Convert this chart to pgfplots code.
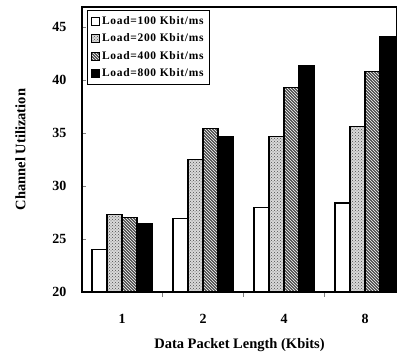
\documentclass[border=0pt]{standalone}
\usepackage{pgfplots}
\pgfplotsset{compat=1.18}
\usetikzlibrary{patterns}
\usepackage{fontspec}
\setmainfont{Liberation Serif}
\newfontfamily\legfont[LetterSpace=6]{Liberation Serif}
\begin{document}
\begin{tikzpicture}
\begin{axis}[
  scale only axis,
  width=315pt, height=285pt,
  xmin=0.506, xmax=4.395,
  ymin=20, ymax=46.9,
  xtick={1,2,3,4}, xticklabels={1,2,4,8},
  minor xtick={1.5,2.5,3.5},
  major x tick style={draw=none},
  minor tick length=5pt,
  ytick={20,25,...,45},
  major tick length=4pt,
  tick align=inside,
  xtick pos=bottom, ytick pos=left,
  /pgf/number format/assume math mode=true,
  tick label style={font=\fontsize{14}{14}\selectfont\bfseries},
  xticklabel style={yshift=-15pt},
  yticklabel style={xshift=-12pt},
  xlabel={Data Packet Length (Kbits)},
  ylabel={Channel Utilization},
  xlabel style={font=\fontsize{14.5}{15}\selectfont\bfseries, yshift=-8pt},
  ylabel style={font=\fontsize{14.5}{15}\selectfont\bfseries, yshift=20pt},
  axis line style={line width=1.4pt},
  ybar, bar width=0.185,
  every axis plot/.append style={line width=1.1pt, draw=black},
  legend style={at={(0.016,0.99)}, anchor=north west, draw=black, line width=0.8pt,
    font=\legfont\fontsize{11.5}{12}\selectfont\bfseries, row sep=4pt, inner sep=4pt},
  legend cell align=left,
  legend image code/.code={\draw[#1, line width=0.6pt] (0pt,-4pt) rectangle (8pt,4pt);},
]
\addplot[fill=white, bar shift=-0.2775] coordinates {(1,24.0) (2,26.9) (3,28.0) (4,28.4)};
\addplot[fill=gray!30, postaction={pattern=crosshatch dots, pattern color=black!70}, bar shift=-0.0925] coordinates {(1,27.3) (2,32.5) (3,34.7) (4,35.6)};
\addplot[fill=black!70, postaction={pattern=north west lines, pattern color=white}, bar shift=0.0925] coordinates {(1,27.0) (2,35.4) (3,39.3) (4,40.85)};
\addplot[fill=black, bar shift=0.2775] coordinates {(1,26.5) (2,34.7) (3,41.4) (4,44.1)};
\legend{Load=100 Kbit/ms, Load=200 Kbit/ms, Load=400 Kbit/ms, Load=800 Kbit/ms}
\end{axis}
\pgfresetboundingbox
\path[use as bounding box] (-82pt,-64pt) rectangle (315pt,292pt);
\end{tikzpicture}
\end{document}
